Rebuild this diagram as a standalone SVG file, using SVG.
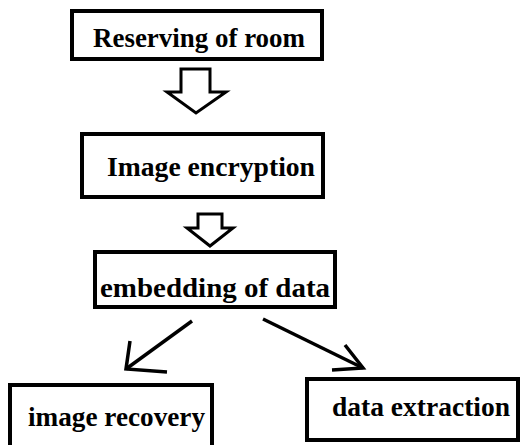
<svg xmlns="http://www.w3.org/2000/svg" width="520" height="445" viewBox="0 0 520 445">
<style>
.box{fill:#fff;stroke:#000;stroke-width:4}
.t{font-family:'Liberation Serif','Times New Roman','DejaVu Serif',serif;font-weight:700;font-size:28px;fill:#000}
.blk{fill:#fff;stroke:#000;stroke-width:3;stroke-linejoin:miter}
.ln{fill:none;stroke:#000;stroke-width:3.5;stroke-linecap:butt;stroke-linejoin:miter}
</style>
<rect width="520" height="445" fill="#fff"/>
<g id="n1"><rect class="box" x="72" y="11" width="250" height="48"/><text class="t" x="93" y="47" textLength="212" lengthAdjust="spacingAndGlyphs">Reserving of room</text></g>
<g id="n2"><rect class="box" x="82" y="134" width="241" height="63"/><text class="t" x="107" y="176" textLength="208" lengthAdjust="spacingAndGlyphs">Image encryption</text></g>
<g id="n3"><rect class="box" x="95" y="252" width="240" height="55"/><text class="t" x="100" y="297" textLength="230" lengthAdjust="spacingAndGlyphs">embedding of data</text></g>
<g id="n4"><rect class="box" x="10" y="385" width="202" height="70"/><text class="t" x="28" y="426" textLength="177" lengthAdjust="spacingAndGlyphs">image recovery</text></g>
<g id="n5"><rect class="box" x="307" y="379" width="211" height="61"/><text class="t" x="332" y="416" textLength="178" lengthAdjust="spacingAndGlyphs">data extraction</text></g>
<g id="connectors">
<polygon class="blk" points="181,69 210,69 210,92 226,92 196,113 167,92 181,92"/>
<polygon class="blk" points="198,214 222,214 222,228 233,228 210,246 187,228 198,228"/>
<line class="ln" x1="192" y1="321" x2="126" y2="369"/>
<polyline class="ln" points="130,341 126,369 167,372"/>
<line class="ln" x1="263" y1="319" x2="363" y2="368"/>
<polyline class="ln" points="345,345 363,368 332,370"/>
</g>
</svg>
